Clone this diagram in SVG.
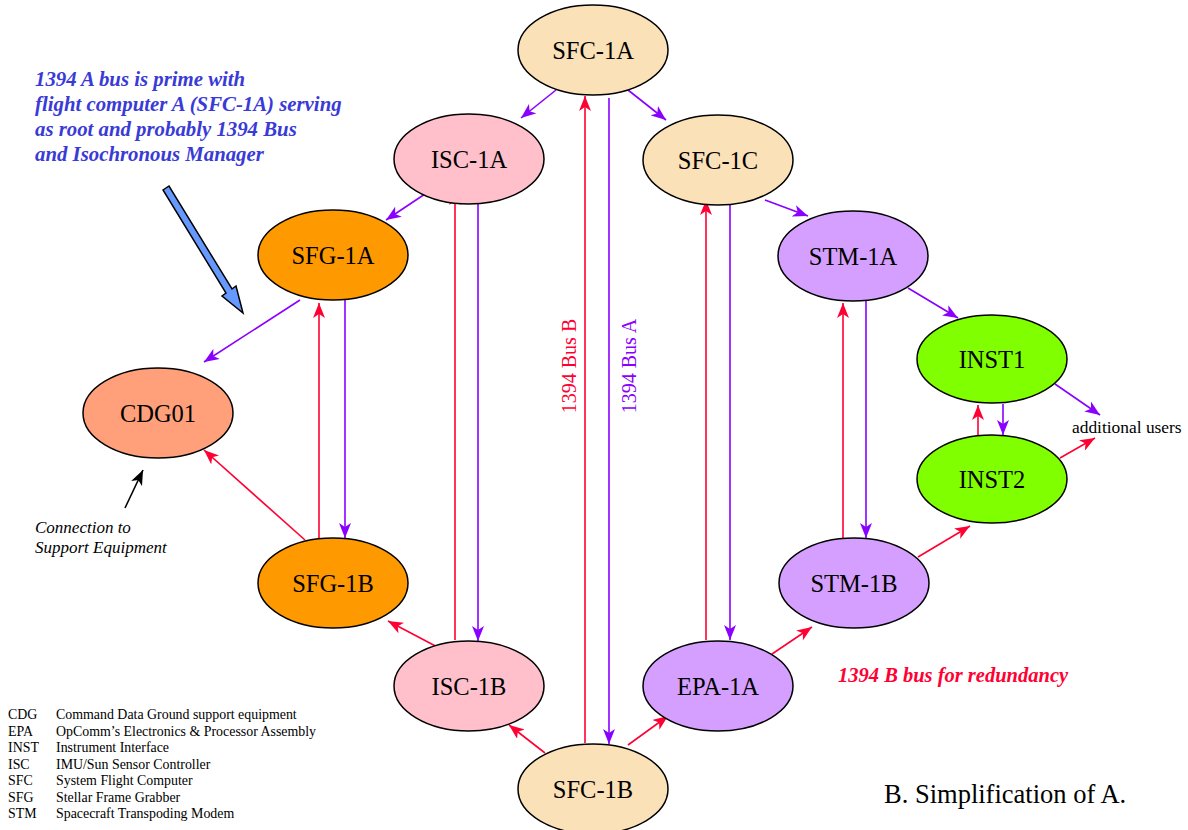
<svg xmlns="http://www.w3.org/2000/svg" width="1188" height="830" viewBox="0 0 1188 830">
<style>
.node ellipse{stroke:#000;stroke-width:1.5}
.lbl{font-family:"Liberation Serif","Times New Roman",serif;font-size:24.5px;text-anchor:middle;fill:#000}
.a{stroke:#8a00ff;stroke-width:1.6;fill:none;marker-end:url(#ma)}
.b{stroke:#ff0033;stroke-width:1.6;fill:none;marker-end:url(#mb)}
.leg{font-family:"Liberation Serif","Times New Roman",serif;font-size:13.9px;fill:#000}
.note{font-family:"Liberation Serif","Times New Roman",serif;font-weight:bold;font-style:italic}
</style>
<defs>
<marker id="ma" markerUnits="userSpaceOnUse" markerWidth="16" markerHeight="12" refX="15" refY="6" orient="auto"><path d="M0,0 L15,6 L0,12 L4,6 z" fill="#8a00ff"/></marker>
<marker id="mb" markerUnits="userSpaceOnUse" markerWidth="16" markerHeight="12" refX="15" refY="6" orient="auto"><path d="M0,0 L15,6 L0,12 L4,6 z" fill="#ff0033"/></marker>
<marker id="mk" markerUnits="userSpaceOnUse" markerWidth="16" markerHeight="12" refX="15" refY="6" orient="auto"><path d="M0,0 L15,6 L0,12 L4,6 z" fill="#000"/></marker>
</defs>
<rect width="1188" height="830" fill="#fff"/>

<g id="connectors">
<!-- Bus A -->
<line class="a" x1="556" y1="90" x2="521" y2="118"/>
<line class="a" x1="628" y1="90" x2="666" y2="120"/>
<line class="a" x1="425" y1="194" x2="386" y2="220"/>
<line class="a" x1="765" y1="200" x2="808" y2="216"/>
<line class="a" x1="908" y1="288" x2="958" y2="318"/>
<line class="a" x1="1055" y1="384" x2="1100" y2="415"/>
<line class="a" x1="1003" y1="404" x2="1003" y2="435"/>
<line class="a" x1="300" y1="300" x2="204" y2="362"/>
<line class="a" x1="345" y1="300" x2="345" y2="538"/>
<line class="a" x1="478" y1="204" x2="478" y2="641"/>
<line class="a" x1="609" y1="98" x2="609" y2="744"/>
<line class="a" x1="730" y1="205" x2="730" y2="640"/>
<line class="a" x1="866" y1="301" x2="866" y2="538"/>
<!-- Bus B -->
<line class="b" x1="545" y1="753" x2="509" y2="725"/>
<line class="b" x1="628" y1="745" x2="668" y2="716"/>
<line class="b" x1="585" y1="743" x2="585" y2="96"/>
<line class="b" x1="443" y1="650" x2="388" y2="621"/>
<line class="b" x1="455" y1="640" x2="455" y2="190"/>
<line class="b" x1="706" y1="640" x2="706" y2="200"/>
<line class="b" x1="772" y1="654" x2="812" y2="627"/>
<line class="b" x1="843" y1="539" x2="843" y2="303"/>
<line class="b" x1="918" y1="557" x2="970" y2="526"/>
<line class="b" x1="978" y1="435" x2="978" y2="405"/>
<line class="b" x1="1060" y1="458" x2="1095" y2="438"/>
<line class="b" x1="305" y1="540" x2="204" y2="450"/>
<line class="b" x1="319" y1="540" x2="319" y2="303"/>
<!-- annotation arrows -->
<line x1="125" y1="508" x2="143" y2="470" stroke="#000" stroke-width="1.6" marker-end="url(#mk)"/>
<polygon points="163,190 169,186 232,289 236,286 243,313 222,296 226,293" fill="#6699ff" stroke="#000" stroke-width="1.5" stroke-linejoin="miter"/>
</g>

<g id="SFC-1A" class="node"><ellipse cx="593" cy="50" rx="75" ry="45" fill="#fbe1b8"/><text class="lbl" x="593" y="59">SFC-1A</text></g>
<g id="ISC-1A" class="node"><ellipse cx="469" cy="159" rx="75" ry="45" fill="#ffc0cb"/><text class="lbl" x="469" y="168">ISC-1A</text></g>
<g id="SFC-1C" class="node"><ellipse cx="718" cy="160" rx="75" ry="45" fill="#fbe1b8"/><text class="lbl" x="718" y="169">SFC-1C</text></g>
<g id="SFG-1A" class="node"><ellipse cx="333" cy="255" rx="75" ry="45" fill="#ff9900"/><text class="lbl" x="333" y="264">SFG-1A</text></g>
<g id="STM-1A" class="node"><ellipse cx="853" cy="256" rx="75" ry="45" fill="#d49fff"/><text class="lbl" x="853" y="265">STM-1A</text></g>
<g id="INST1" class="node"><ellipse cx="992" cy="359" rx="75" ry="44" fill="#80ff00"/><text class="lbl" x="992" y="368">INST1</text></g>
<g id="INST2" class="node"><ellipse cx="992" cy="479" rx="75" ry="44" fill="#80ff00"/><text class="lbl" x="992" y="488">INST2</text></g>
<g id="CDG01" class="node"><ellipse cx="158" cy="413" rx="75" ry="45" fill="#ffa07a"/><text class="lbl" x="158" y="422">CDG01</text></g>
<g id="SFG-1B" class="node"><ellipse cx="333" cy="583" rx="75" ry="45" fill="#ff9900"/><text class="lbl" x="333" y="592">SFG-1B</text></g>
<g id="STM-1B" class="node"><ellipse cx="854" cy="583" rx="75" ry="45" fill="#d49fff"/><text class="lbl" x="854" y="592">STM-1B</text></g>
<g id="ISC-1B" class="node"><ellipse cx="469" cy="686" rx="75" ry="45" fill="#ffc0cb"/><text class="lbl" x="469" y="695">ISC-1B</text></g>
<g id="EPA-1A" class="node"><ellipse cx="718" cy="686" rx="75" ry="45" fill="#d49fff"/><text class="lbl" x="718" y="695">EPA-1A</text></g>
<g id="SFC-1B" class="node"><ellipse cx="593" cy="789" rx="75" ry="45" fill="#fbe1b8"/><text class="lbl" x="593" y="798">SFC-1B</text></g>

<g id="labels">
<text transform="translate(576,366) rotate(-90)" text-anchor="middle" font-family="Liberation Serif,serif" font-size="20" fill="#ff0033">1394 Bus B</text>
<text transform="translate(636,366) rotate(-90)" text-anchor="middle" font-family="Liberation Serif,serif" font-size="20" fill="#8a00ff">1394 Bus A</text>
<text class="note" font-size="20.8" fill="#3a3ad6">
<tspan x="35" y="86">1394 A bus is prime with</tspan>
<tspan x="35" y="111">flight computer A (SFC-1A) serving</tspan>
<tspan x="35" y="136">as root and probably 1394 Bus</tspan>
<tspan x="35" y="161">and Isochronous Manager</tspan>
</text>
<text font-family="Liberation Serif,serif" font-style="italic" font-size="17" fill="#000"><tspan x="35" y="533">Connection to</tspan><tspan x="35" y="553">Support Equipment</tspan></text>
<text x="1072" y="433" font-family="Liberation Serif,serif" font-size="17.4" fill="#000">additional users</text>
<text class="note" x="838" y="682" font-size="20.5" fill="#ff0033">1394 B bus for redundancy</text>
<text x="884" y="803" font-family="Liberation Serif,serif" font-size="26.5" fill="#000">B. Simplification of A.</text>
</g>

<g id="legend" class="leg">
<text x="8" y="719">CDG</text><text x="56" y="719">Command Data Ground support equipment</text>
<text x="8" y="736">EPA</text><text x="56" y="736">OpComm’s Electronics &amp; Processor Assembly</text>
<text x="8" y="752">INST</text><text x="56" y="752">Instrument Interface</text>
<text x="8" y="769">ISC</text><text x="56" y="769">IMU/Sun Sensor Controller</text>
<text x="8" y="785">SFC</text><text x="56" y="785">System Flight Computer</text>
<text x="8" y="802">SFG</text><text x="56" y="802">Stellar Frame Grabber</text>
<text x="8" y="818">STM</text><text x="56" y="818">Spacecraft Transpoding Modem</text>
</g>
</svg>
